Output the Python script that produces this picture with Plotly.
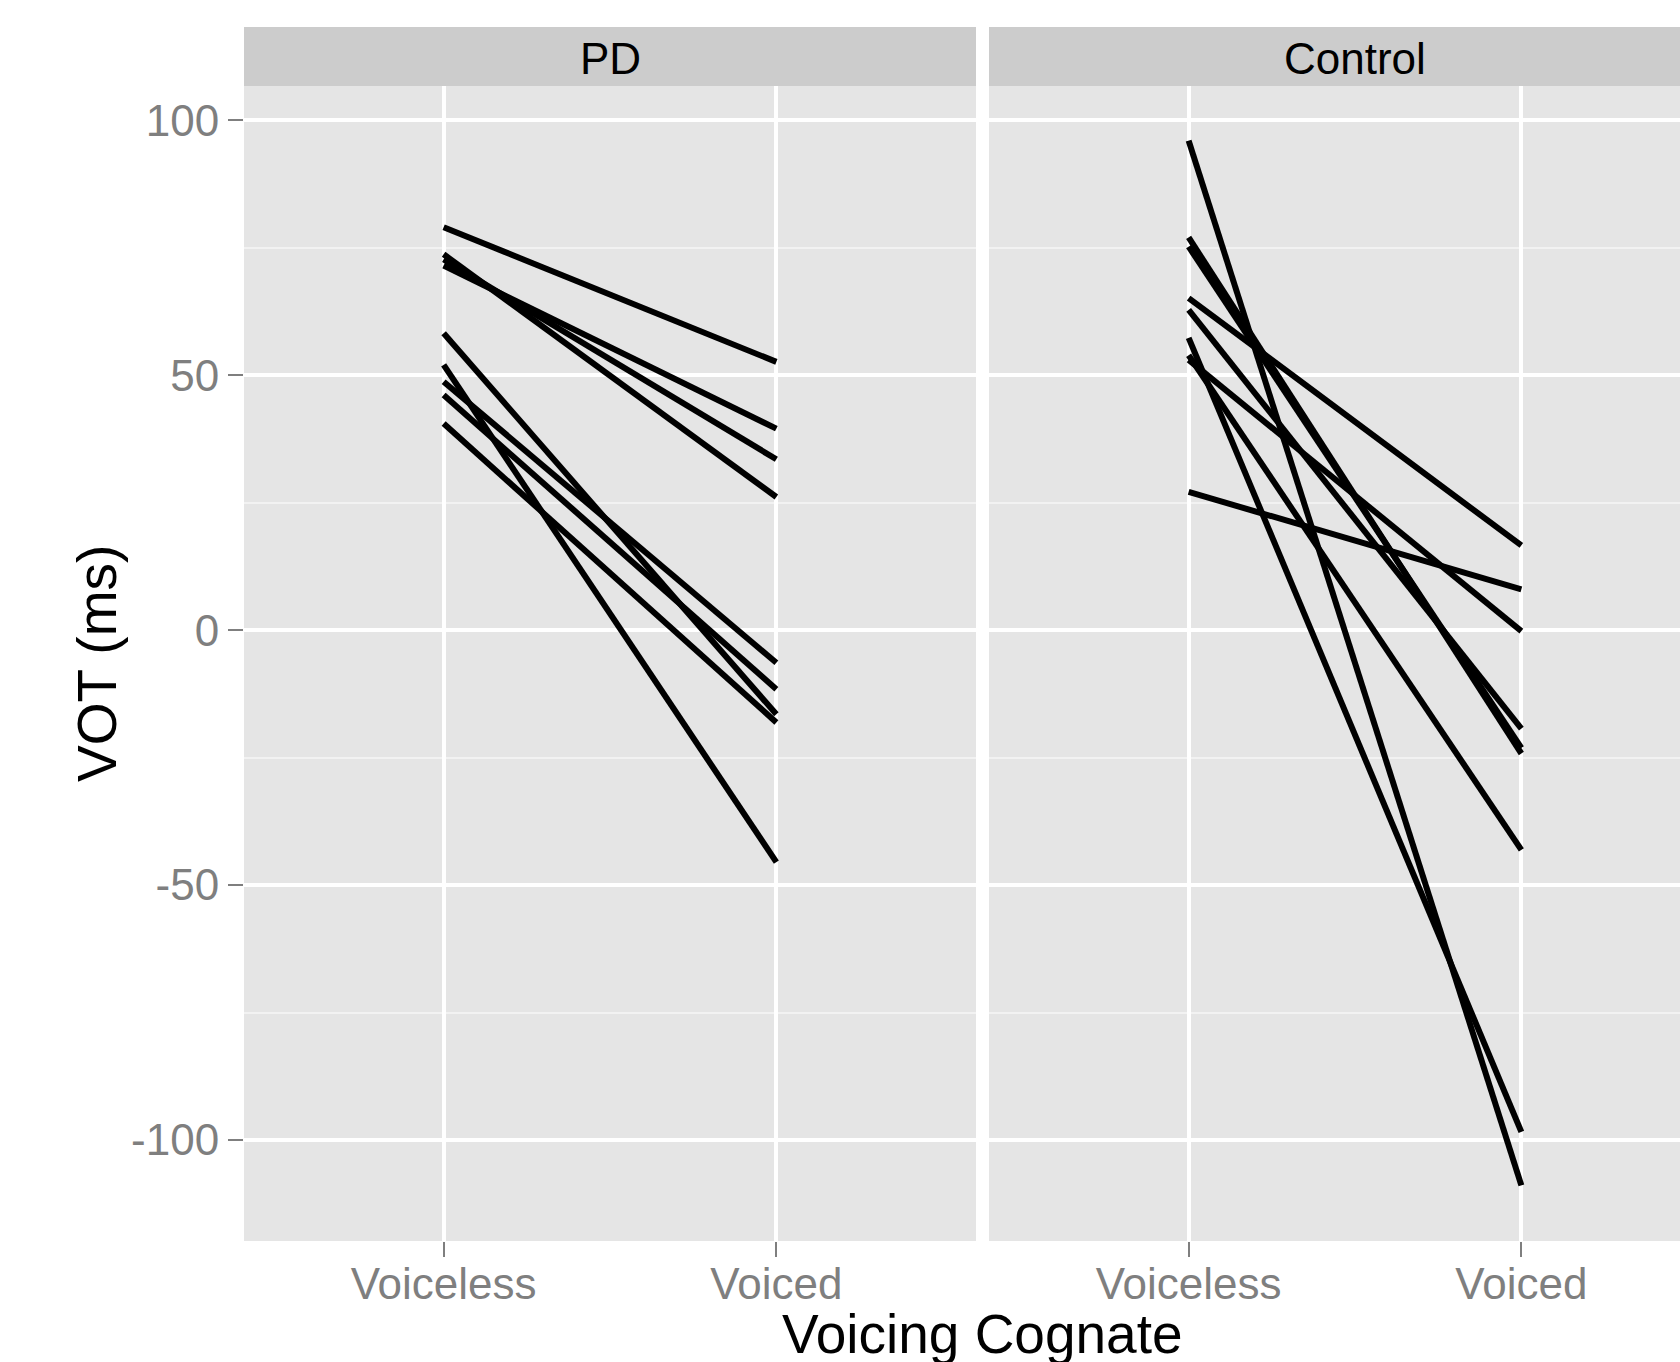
import plotly.graph_objects as go

# ---- data ----
categories = ["Voiceless", "Voiced"]
panels = ["PD", "Control"]

pd_voiceless = [79.0, 73.7, 72.7, 71.5, 58.2, 52.0, 48.7, 46.1, 40.5]
pd_voiced = [52.6, 26.1, 33.5, 39.5, -16.5, -45.5, -6.4, -11.6, -18.1]

control_voiceless = [96.0, 77.0, 75.2, 62.8, 65.1, 27.1, 57.3, 53.0, 53.9]
control_voiced = [-108.9, -24.2, -23.1, -19.3, 16.6, 8.0, -98.4, -0.2, -43.1]

y_tickvals = [-100, -50, 0, 50, 100]
y_ticktext = ["-100", "-50", "0", "50", "100"]

# ---- figure ----
W, H = 1680, 1362
ML, MR, MT, MB = 244, 0, 86, 121
plot_w = W - ML - MR
plot_h = H - MT - MB

p1_left, p1_right = 244, 976
p2_left = 989
full_panel_w = p1_right - p1_left

def px_to_paper_x(px):
    return (px - ML) / plot_w

fig = go.Figure()

line_style = dict(color="black", width=6)
for a, b in zip(pd_voiceless, pd_voiced):
    fig.add_trace(go.Scatter(x=categories, y=[a, b], mode="lines", line=line_style,
                             xaxis="x", yaxis="y", showlegend=False, hoverinfo="skip"))
for a, b in zip(control_voiceless, control_voiced):
    fig.add_trace(go.Scatter(x=categories, y=[a, b], mode="lines", line=line_style,
                             xaxis="x2", yaxis="y2", showlegend=False, hoverinfo="skip"))

grey_txt = "#7F7F7F"
font_family = "Liberation Sans, Arial, sans-serif"

x_common = dict(
    type="category", categoryorder="array", categoryarray=categories,
    showgrid=True, gridcolor="white", gridwidth=3.5,
    ticks="outside", ticklen=15, tickwidth=2, tickcolor=grey_txt,
    tickfont=dict(size=44, color=grey_txt, family=font_family),
    showline=False, zeroline=False, ticklabelstandoff=-11,
)
y_common = dict(
    range=[-119.8, 106.7], tickvals=y_tickvals, ticktext=y_ticktext,
    showgrid=True, gridcolor="white", gridwidth=3.5,
    minor=dict(tickvals=[-75, -25, 25, 75], showgrid=True, gridcolor="#F2F2F2",
               gridwidth=1.8, ticks=""),
    tickwidth=2, tickcolor=grey_txt,
    tickfont=dict(size=44, color=grey_txt, family=font_family),
    showline=False, zeroline=False,
)

p2_visible = W - p2_left
fig.update_layout(
    width=W, height=H,
    margin=dict(l=ML, r=MR, t=MT, b=MB, pad=0),
    paper_bgcolor="white", plot_bgcolor="#E5E5E5",
    font=dict(family=font_family),
    xaxis=dict(domain=[0, px_to_paper_x(p1_right)], range=[-0.6, 1.6], anchor="y", **x_common),
    xaxis2=dict(domain=[px_to_paper_x(p2_left), 1.0],
                range=[-0.6, -0.6 + 2.2 * p2_visible / full_panel_w], anchor="y2",
                **x_common),
    yaxis=dict(domain=[0, 1], anchor="x", ticks="outside", ticklen=15,
               ticklabelstandoff=0, **y_common),
    yaxis2=dict(domain=[0, 1], anchor="x2", matches="y", showticklabels=False,
                ticks="", **y_common),
)

# strips
strip_h = (86 - 27) / plot_h
shapes = []
annotations = []
for name, left in zip(panels, [p1_left, p2_left]):
    x0 = px_to_paper_x(left)
    x1 = min(px_to_paper_x(left + full_panel_w), 1.0)
    shapes.append(dict(type="rect", xref="paper", yref="paper", x0=x0, x1=x1,
                       y0=1.0, y1=1.0 + strip_h, fillcolor="#CCCCCC", line=dict(width=0),
                       layer="below"))
    annotations.append(dict(text=name, xref="paper", yref="paper",
                            x=px_to_paper_x(left + full_panel_w / 2),
                            y=1.0 + strip_h / 2 - 2 / plot_h,
                            xanchor="center", yanchor="middle", showarrow=False,
                            font=dict(size=44, color="black", family=font_family)))

# axis titles
annotations.append(dict(text="Voicing Cognate", xref="paper", yref="paper",
                        x=px_to_paper_x(982), y=-(1334 - 1241) / plot_h,
                        xanchor="center", yanchor="middle", showarrow=False,
                        font=dict(size=55, color="black", family=font_family)))
annotations.append(dict(text="VOT (ms)", xref="paper", yref="paper",
                        x=px_to_paper_x(97), y=(1241 - 664) / plot_h,
                        xanchor="center", yanchor="middle", showarrow=False, textangle=-90,
                        font=dict(size=55, color="black", family=font_family)))

fig.update_layout(shapes=shapes, annotations=annotations)

fig.write_html("out.html")
